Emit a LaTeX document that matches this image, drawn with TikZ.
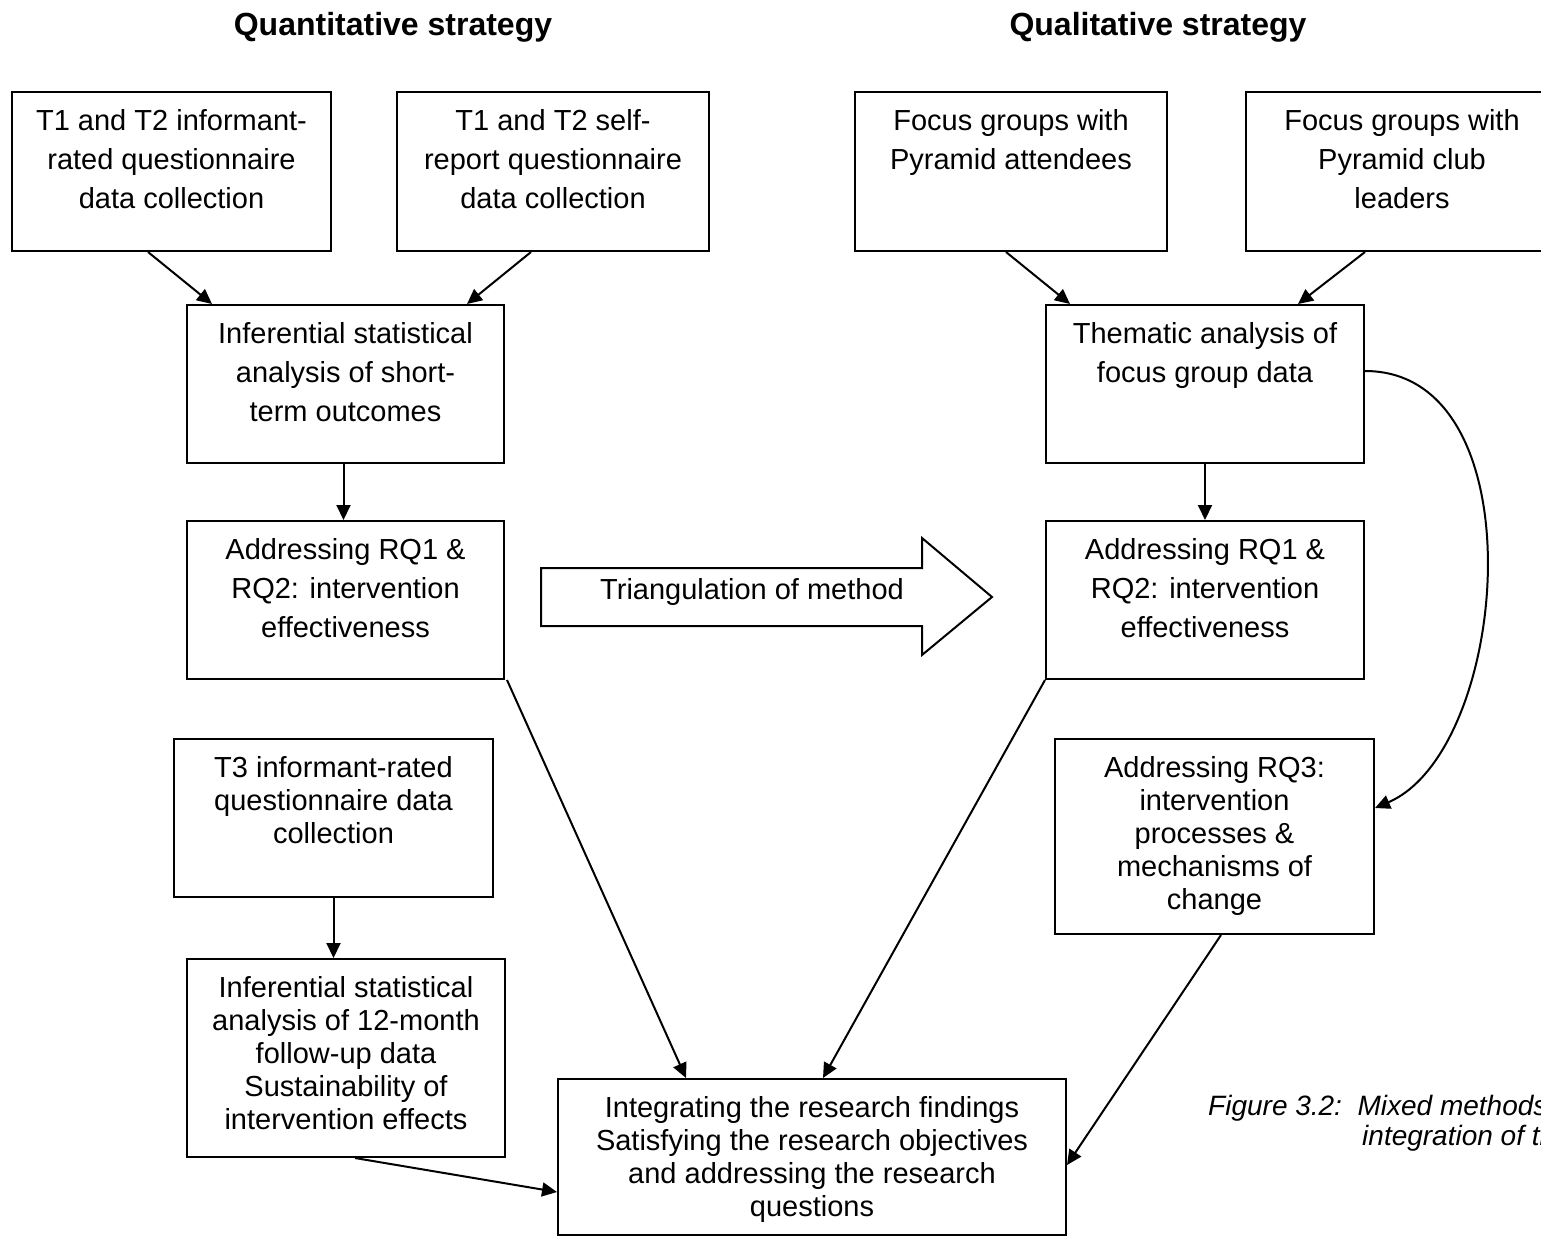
\documentclass[tikz,border=0pt]{standalone}
\usepackage{fontspec}
\setmainfont{Liberation Sans}
\usetikzlibrary{arrows.meta}
\begin{document}
\begin{tikzpicture}[x=1pt,y=-1pt,
  box/.style={draw, line width=2pt, inner sep=0pt},
  up/.style={anchor=north, align=center, inner sep=0pt, font=\fontsize{29}{39}\selectfont},
  low/.style={anchor=north, align=center, inner sep=0pt, font=\fontsize{29}{33}\selectfont},
  conn/.style={line width=2pt, -{Triangle[length=15pt,width=14pt]}},
  head/.style={anchor=base, inner sep=0pt, font=\fontsize{32}{38}\selectfont\bfseries},
  capt/.style={anchor=base west, inner sep=0pt, font=\fontsize{28}{33}\selectfont\itshape}
]
\useasboundingbox (0,0) rectangle (1541,1237);

% headings
\node[head] (hq) at (393,35) {Quantitative strategy};
\node[head] (hl) at (1158,35) {Qualitative strategy};

% boxes
\node[box, minimum width=319pt, minimum height=159pt] (A) at (171.5,171.5) {};
\node[box, minimum width=312pt, minimum height=159pt] (B) at (553,171.5) {};
\node[box, minimum width=312pt, minimum height=159pt] (C) at (1011,171.5) {};
\node[box, minimum width=312pt, minimum height=159pt] (D) at (1402,171.5) {};
\node[box, minimum width=317pt, minimum height=158pt] (E) at (345.5,384) {};
\node[box, minimum width=318pt, minimum height=158pt] (F) at (1205,384) {};
\node[box, minimum width=317pt, minimum height=158pt] (G) at (345.5,600) {};
\node[box, minimum width=318pt, minimum height=158pt] (H) at (1205,600) {};
\node[box, minimum width=319pt, minimum height=158pt] (I) at (333.5,818) {};
\node[box, minimum width=318pt, minimum height=198pt] (J) at (346,1058) {};
\node[box, minimum width=508pt, minimum height=156pt] (K) at (812,1157) {};
\node[box, minimum width=319pt, minimum height=195pt] (L) at (1214.5,836.5) {};

% texts
\node[up] (At) at ([yshift=-11.7pt]A.north) {\strut T1 and T2 informant-\\rated questionnaire\\data collection};
\node[up] (Bt) at ([yshift=-11.7pt]B.north) {\strut T1 and T2 self-\\report questionnaire\\data collection};
\node[up] (Ct) at ([yshift=-11.7pt]C.north) {\strut Focus groups with\\Pyramid attendees};
\node[up] (Dt) at ([yshift=-11.7pt]D.north) {\strut Focus groups with\\Pyramid club\\leaders};
\node[up] (Et) at ([yshift=-11.7pt]E.north) {\strut Inferential statistical\\analysis of short-\\term outcomes};
\node[up] (Ft) at ([yshift=-11.7pt]F.north) {\strut Thematic analysis of\\focus group data};
\node[up] (Gt) at ([yshift=-11.7pt]G.north) {\strut Addressing RQ1 \&\\RQ2: intervention\\effectiveness};
\node[up] (Ht) at ([yshift=-11.7pt]H.north) {\strut Addressing RQ1 \&\\RQ2: intervention\\effectiveness};
\node[low] (It) at ([yshift=-16.4pt]I.north) {\strut T3 informant-rated\\questionnaire data\\collection};
\node[low] (Jt) at ([yshift=-16.4pt]J.north) {\strut Inferential statistical\\analysis of 12-month\\follow-up data\\Sustainability of\\intervention effects};
\node[low] (Kt) at ([yshift=-16.4pt]K.north) {\strut Integrating the research findings\\Satisfying the research objectives\\and addressing the research\\questions};
\node[low] (Lt) at ([yshift=-16.4pt]L.north) {\strut Addressing RQ3:\\intervention\\processes \&\\mechanisms of\\change};

% triangulation arrow
\draw[line width=2pt, line join=miter] (541,568) -- (922,568) -- (922,538) -- (992,597) -- (922,655) -- (922,626) -- (541,626) -- cycle;
\node[anchor=center, inner sep=0pt, font=\fontsize{29}{39}\selectfont] (tri) at (752,592) {Triangulation of method};

% connectors
\draw[conn] ([xshift=-23.5pt]A.south) -- ([xshift=-133.5pt]E.north);
\draw[conn] ([xshift=-22pt]B.south) -- ([xshift=121.5pt]E.north);
\draw[conn] ([xshift=-5pt]C.south) -- ([xshift=-135pt]F.north);
\draw[conn] ([xshift=-37pt]D.south) -- ([xshift=93pt]F.north);
\draw[conn] ([xshift=-2pt]E.south) -- ([xshift=-2pt]G.north);
\draw[conn] (F.south) -- (H.north);
\draw[conn] (I.south) -- (I.south |- J.north);
\draw[conn] ([xshift=2pt]G.south east) -- ([xshift=-126pt]K.north);
\draw[conn] (H.south west) -- ([xshift=11pt]K.north);
\draw[conn] ([xshift=6.5pt]L.south) -- ([yshift=-8pt]K.east);
\draw[conn] ([xshift=9pt]J.south) -- ([yshift=-35pt]K.west);
\draw[conn] ([yshift=13pt]F.east) .. controls (1540,371) and (1510,750) .. ([yshift=28.5pt]L.east);

% caption
\node[capt] (cap1) at (1208,1115) {Figure 3.2:\ \ Mixed methods};
\node[capt] (cap2) at (1362,1145) {integration of the};
\end{tikzpicture}
\end{document}
